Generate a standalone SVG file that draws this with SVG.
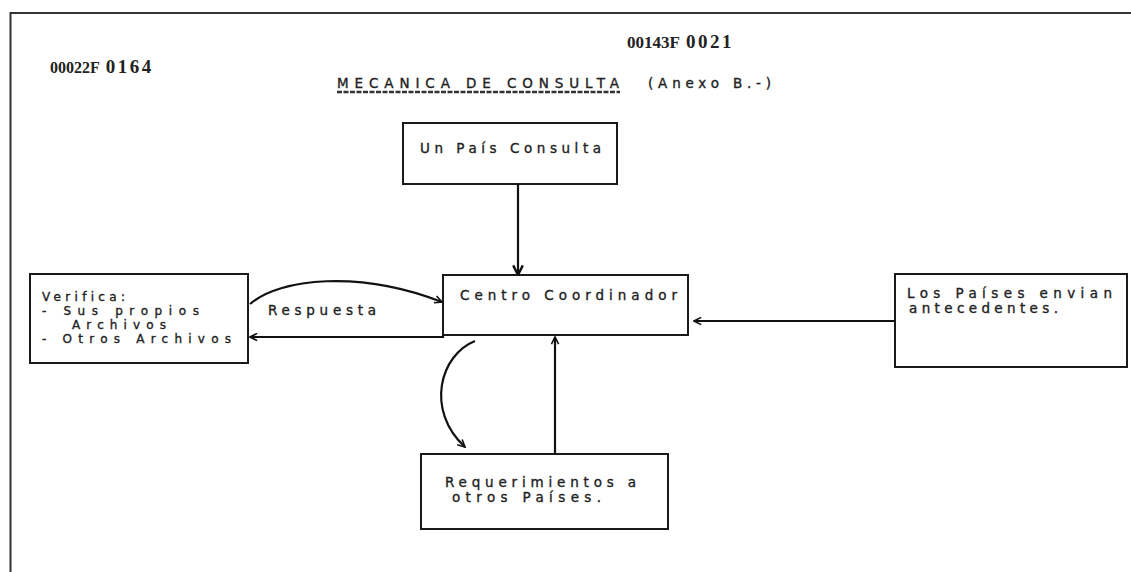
<svg xmlns="http://www.w3.org/2000/svg" width="1131" height="572" viewBox="0 0 1131 572">
<defs>
<style>
.box{fill:none;stroke:#1a1a1a;stroke-width:2}
.ln{fill:none;stroke:#111;stroke-width:2.2}
.t{font-family:"DejaVu Sans","Liberation Sans",Arial,sans-serif;font-size:13.5px;fill:#222;stroke:#222;stroke-width:0.35;letter-spacing:1px}
.s{font-size:12px}
.num{font-family:"Liberation Serif","Times New Roman",serif;font-weight:bold;fill:#222}
</style>
<marker id="ah" viewBox="0 0 10 10" refX="9" refY="5" markerWidth="9" markerHeight="9" markerUnits="userSpaceOnUse" orient="auto">
<path d="M1,1 L9,5 L1,9" fill="none" stroke="#111" stroke-width="1.8"/>
</marker>
<marker id="ahs" viewBox="0 0 10 10" refX="9" refY="5" markerWidth="12" markerHeight="12" markerUnits="userSpaceOnUse" orient="auto">
<path d="M1,1 L9,5 L1,9" fill="none" stroke="#111" stroke-width="2"/>
</marker>
</defs>
<rect width="1131" height="572" fill="#fff"/>
<g id="frame">
<path d="M10.5,572 V13 H1131" fill="none" stroke="#333" stroke-width="2"/>
</g>
<g id="header">
<text class="num" x="50" y="73"><tspan font-size="16">00022F</tspan><tspan font-size="19" dx="6" letter-spacing="2.5">0164</tspan></text>
<text class="num" x="627" y="48"><tspan font-size="17">00143F</tspan><tspan font-size="19" dx="6" letter-spacing="2.5">0021</tspan></text>
<text class="t" x="337" y="88" textLength="283" lengthAdjust="spacing">MECANICA DE CONSULTA</text>
<line x1="337" y1="92" x2="620" y2="92" stroke="#333" stroke-width="2.5" stroke-dasharray="5,1.5"/>
<text class="t" x="648" y="88" textLength="124" lengthAdjust="spacing">(Anexo B.-)</text>
</g>
<g id="node-pais-consulta">
<rect class="box" x="403" y="123" width="214" height="61"/>
<text class="t" x="420" y="153" textLength="182" lengthAdjust="spacing">Un País Consulta</text>
</g>
<g id="node-centro">
<rect class="box" x="443" y="275" width="245" height="60"/>
<text class="t" x="460" y="300" textLength="218" lengthAdjust="spacing">Centro Coordinador</text>
</g>
<g id="node-verifica">
<rect class="box" x="30" y="274" width="218" height="89"/>
<text class="t s" x="42" y="301" textLength="84" lengthAdjust="spacing">Verifica:</text>
<text class="t s" x="42" y="315" textLength="158" lengthAdjust="spacing">-  Sus propios</text>
<text class="t s" x="72" y="329" textLength="95" lengthAdjust="spacing">Archivos</text>
<text class="t s" x="42" y="343" textLength="190" lengthAdjust="spacing">-  Otros Archivos</text>
</g>
<g id="node-paises">
<rect class="box" x="895" y="274" width="232" height="93"/>
<text class="t" x="907" y="298" textLength="206" lengthAdjust="spacing">Los Países envian</text>
<text class="t" x="909" y="313" textLength="150" lengthAdjust="spacing">antecedentes.</text>
</g>
<g id="node-requerimientos">
<rect class="box" x="421" y="454" width="247" height="75"/>
<text class="t" x="445" y="487" textLength="192" lengthAdjust="spacing">Requerimientos a</text>
<text class="t" x="452" y="502" textLength="150" lengthAdjust="spacing">otros Países.</text>
</g>
<g id="connectors">
<line class="ln" x1="518" y1="184" x2="518" y2="275" marker-end="url(#ahs)"/>
<path class="ln" d="M250,304 C280,278 360,270 442,302" marker-end="url(#ah)"/>
<text class="t" x="268" y="315" textLength="109" lengthAdjust="spacing">Respuesta</text>
<path class="ln" d="M443,335 V337 H250" marker-end="url(#ah)"/>
<line class="ln" x1="895" y1="321" x2="694" y2="321" marker-end="url(#ah)"/>
<line class="ln" x1="555" y1="454" x2="555" y2="337" marker-end="url(#ah)"/>
<path class="ln" d="M475,341 C440,355 425,410 465,447" marker-end="url(#ah)"/>
</g>
</svg>
